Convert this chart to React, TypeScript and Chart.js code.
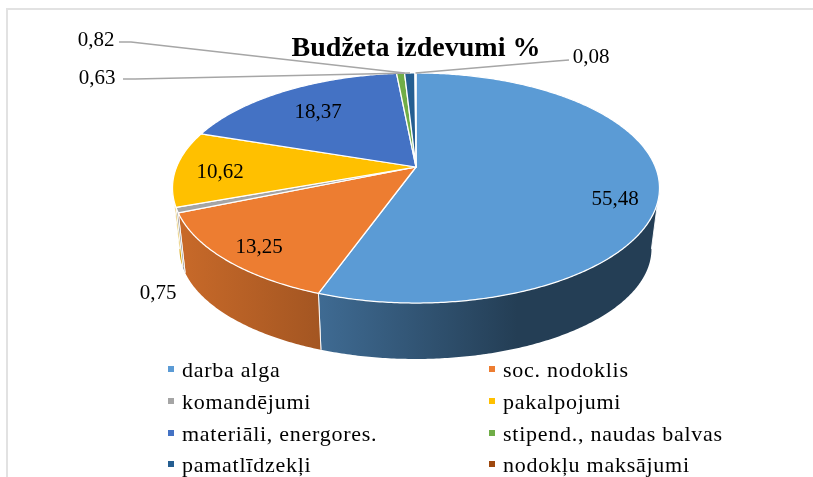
import React, { useEffect, useRef } from "react";
import { Chart, registerables } from "chart.js";

Chart.register(...registerables);

const titleText = "Budžeta izdevumi %";
const categories = [
  "darba alga",
  "soc. nodoklis",
  "komandējumi",
  "pakalpojumi",
  "materiāli, energores.",
  "stipend., naudas balvas",
  "pamatlīdzekļi",
  "nodokļu maksājumi",
];
const values = [55.48, 13.25, 0.75, 10.62, 18.37, 0.63, 0.82, 0.08];
const colors = ["#5B9BD5", "#ED7D31", "#A5A5A5", "#FFC000", "#4472C4", "#70AD47", "#255E91", "#9E480E"];
const textColor = "#000000";
const leaderColor = "#A6A6A6";

// Placement of the value labels (centre x, y), same order as the values.
const labelCentres: [number, number][] = [
  [615, 199], [259, 247], [158, 293], [220, 172], [318, 112], [97, 78], [96, 40], [591, 57],
];
// Leader lines: slice index, where on the slice they attach, and the elbow / end points.
const leaders = [
  { index: 5, attach: 1.68, path: [[123, 79], [135, 79]] },
  { index: 6, attach: 0, path: [[119, 42], [131, 42]] },
  { index: 7, attach: 0.5, path: [[569, 60], [556, 61]] },
];
// Legend grid
const legendColumns = [168, 489];
const legendRows = [371, 403, 435, 466];

// Perspective projection of the unit circle onto the page.
const top = { cx: 416, cy: 167, a: 239.4, b: 111.2 };
const bottom = { cx: 415.5, cy: 228.8, a: 232, b: 106.4 };
const k = 0.1826;

const project = (p: typeof top, t: number): [number, number] => {
  const u = Math.cos(t);
  const v = Math.sin(t);
  const w = 1 - k * v;
  return [p.cx + (p.a * u) / w, p.cy + (p.b * v) / w];
};

const shade = (hex: string, f: number) => {
  const n = parseInt(hex.slice(1), 16);
  const c = [(n >> 16) & 255, (n >> 8) & 255, n & 255].map((x) => Math.round(x * f));
  return `rgb(${c[0]},${c[1]},${c[2]})`;
};

const arcPoints = (p: typeof top, s: number, e: number) => {
  const steps = Math.max(2, Math.ceil(Math.abs(e - s) / 0.01));
  const out: [number, number][] = [];
  for (let i = 0; i <= steps; i++) out.push(project(p, s + ((e - s) * i) / steps));
  return out;
};

const pie3d = {
  id: "pie3d",
  beforeDatasetDraw(chart: any) {
    const ctx: CanvasRenderingContext2D = chart.ctx;
    const arcs = chart.getDatasetMeta(0).data;
    const vis0 = Math.asin(k);
    const vis1 = Math.PI - vis0;
    ctx.save();
    // side wall
    arcs.forEach((arc: any, i: number) => {
      let s = arc.startAngle;
      let e = arc.endAngle;
      s = Math.max(s, vis0);
      e = Math.min(e, vis1);
      if (e <= s) return;
      const g = ctx.createLinearGradient(183, 0, 517, 0);
      g.addColorStop(0, shade(colors[i], 0.84));
      g.addColorStop(0.404, shade(colors[i], 0.69));
      g.addColorStop(1, shade(colors[i], 0.4));
      const upper = arcPoints(top, s, e);
      const lower = arcPoints(bottom, s, e).reverse();
      ctx.beginPath();
      [...upper, ...lower].forEach((pt, n) => (n ? ctx.lineTo(pt[0], pt[1]) : ctx.moveTo(pt[0], pt[1])));
      ctx.closePath();
      ctx.fillStyle = g;
      ctx.fill();
      ctx.strokeStyle = "rgba(255,255,255,0.9)";
      ctx.lineWidth = 1;
      ctx.beginPath();
      ctx.moveTo(upper[0][0], upper[0][1]);
      ctx.lineTo(lower[lower.length - 1][0], lower[lower.length - 1][1]);
      ctx.moveTo(upper[upper.length - 1][0], upper[upper.length - 1][1]);
      ctx.lineTo(lower[0][0], lower[0][1]);
      ctx.stroke();
    });
    // top face
    arcs.forEach((arc: any, i: number) => {
      ctx.beginPath();
      ctx.moveTo(top.cx, top.cy);
      arcPoints(top, arc.startAngle, arc.endAngle).forEach((pt) => ctx.lineTo(pt[0], pt[1]));
      ctx.closePath();
      ctx.fillStyle = colors[i];
      ctx.fill();
      ctx.strokeStyle = "#FFFFFF";
      ctx.lineWidth = 1.25;
      ctx.lineJoin = "round";
      ctx.stroke();
    });
    ctx.restore();
    return false; // the projected faces replace the flat arcs
  },
  afterDraw(chart: any) {
    const ctx: CanvasRenderingContext2D = chart.ctx;
    const arcs = chart.getDatasetMeta(0).data;
    ctx.save();
    // leader lines
    ctx.strokeStyle = leaderColor;
    ctx.lineWidth = 1.5;
    leaders.forEach((l) => {
      const arc = arcs[l.index];
      const at = project(top, arc.startAngle + (arc.endAngle - arc.startAngle) * l.attach);
      ctx.beginPath();
      ctx.moveTo(l.path[0][0], l.path[0][1]);
      ctx.lineTo(l.path[1][0], l.path[1][1]);
      ctx.lineTo(at[0], at[1]);
      ctx.stroke();
    });
    // value labels
    ctx.fillStyle = textColor;
    ctx.font = "21px 'Liberation Serif'";
    ctx.textAlign = "center";
    ctx.textBaseline = "middle";
    values.forEach((v, i) => {
      ctx.fillText(String(v).replace(".", ","), labelCentres[i][0], labelCentres[i][1]);
    });
    // legend, two columns
    ctx.textAlign = "left";
    ctx.font = "22px 'Liberation Serif'";
    (ctx as any).letterSpacing = "0.74px";
    categories.forEach((name, i) => {
      const x = legendColumns[i % 2];
      const y = legendRows[Math.floor(i / 2)];
      ctx.fillStyle = colors[i];
      ctx.fillRect(x, y - 5, 6, 6);
      ctx.fillStyle = textColor;
      ctx.fillText(name, x + 14, y);
    });
    ctx.restore();
  },
};

export default function App() {
  const ref = useRef<HTMLCanvasElement>(null);
  useEffect(() => {
    const chart = new Chart(ref.current!, {
      type: "pie",
      data: {
        labels: categories,
        datasets: [{ data: values, backgroundColor: colors, borderColor: "#FFFFFF", borderWidth: 1 }],
      },
      options: {
        responsive: false,
        animation: false,
        layout: { padding: { left: 19, top: 32, right: 0, bottom: 0 } },
        plugins: {
          legend: { display: false },
          tooltip: { enabled: false },
          title: {
            display: true,
            text: titleText,
            color: textColor,
            font: { family: "'Liberation Serif'", size: 28, weight: "bold" },
            padding: { top: 0, bottom: 0 },
          },
        },
      },
      plugins: [pie3d],
    } as any);
    return () => chart.destroy();
  }, []);
  return (
    <div style={{ position: "fixed", left: 0, top: 0, width: 813, height: 477, background: "#fff" }}>
      <div
        style={{
          position: "absolute",
          left: 6,
          top: 8,
          right: 0,
          bottom: 0,
          borderLeft: "2px solid #E2E2E2",
          borderTop: "2px solid #E2E2E2",
        }}
      />
      <canvas ref={ref} width={813} height={477} style={{ position: "absolute", left: 0, top: 0, display: "block" }} />
    </div>
  );
}
